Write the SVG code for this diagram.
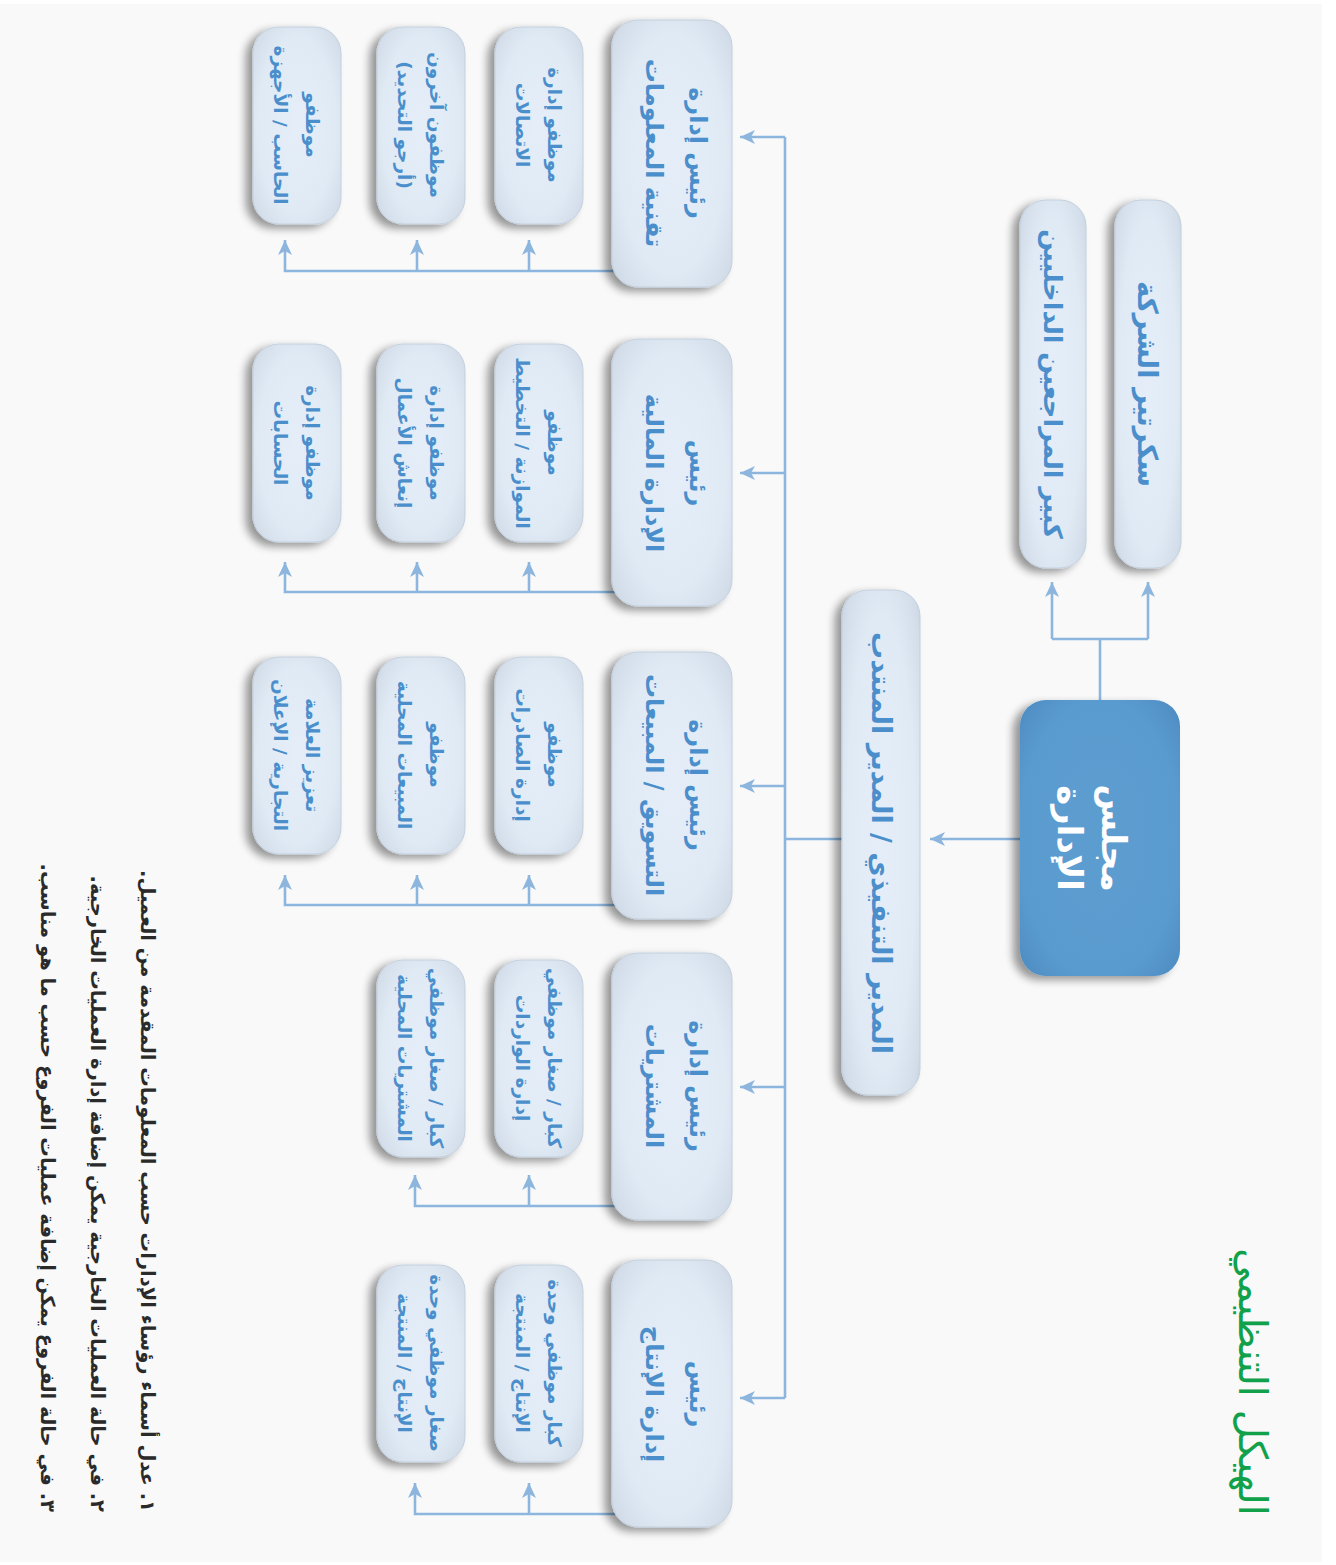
<svg xmlns="http://www.w3.org/2000/svg" width="1336" height="1565" viewBox="0 0 1336 1565">
<defs>
<style>
.bx{fill:url(#gL);stroke:#c3d0dd;stroke-width:1;filter:url(#sh)}
.bd{fill:url(#gB);filter:url(#sh)}
.c{fill:none;stroke:#8db6de;stroke-width:2.6}
.a{marker-end:url(#ar)}
text{font-family:"DejaVu Sans",sans-serif;dominant-baseline:central;text-anchor:middle;direction:rtl}
.h{font-size:24px;font-weight:bold;fill:#4a8fcb}
.s{font-size:18.5px;font-weight:bold;fill:#4a8fcb}
.b{font-size:34px;font-weight:bold;fill:#ffffff}
.m{font-size:27px;font-weight:bold;fill:#4a8fcb}
.t{font-size:40px;fill:#12a14b}
.n{font-size:19.5px;font-weight:bold;fill:#2a2a2a;text-anchor:start}
</style>
<radialGradient id="gL" cx="0.5" cy="0.5" r="0.72">
<stop offset="0" stop-color="#e5eef8"/>
<stop offset="0.62" stop-color="#e0eaf5"/>
<stop offset="0.88" stop-color="#d2dde9"/>
<stop offset="1" stop-color="#c0cddb"/>
</radialGradient>
<radialGradient id="gB" cx="0.5" cy="0.5" r="0.72">
<stop offset="0" stop-color="#5c9dd0"/>
<stop offset="0.7" stop-color="#5a9bcf"/>
<stop offset="1" stop-color="#4b89bf"/>
</radialGradient>
<filter id="sh" x="-30%" y="-30%" width="160%" height="160%">
<feGaussianBlur in="SourceAlpha" stdDeviation="4"/>
<feOffset dx="-7" dy="4"/>
<feComponentTransfer><feFuncA type="linear" slope="0.4"/></feComponentTransfer>
<feMerge><feMergeNode/><feMergeNode in="SourceGraphic"/></feMerge>
</filter>
<marker id="ar" markerUnits="userSpaceOnUse" markerWidth="16" markerHeight="16" refX="15" refY="7" orient="auto" viewBox="0 0 16 14">
<path d="M0,0 L15,7 L0,14 L4,7 Z" fill="#8db6de"/>
</marker>
</defs>
<rect x="0" y="0" width="1336" height="1565" fill="#ffffff"/>
<rect x="0" y="4" width="1322" height="1558" fill="#f9f9f9"/>

<g id="connectors">
<path class="c" d="M1100,700 V639"/>
<path class="c" d="M1052,639 H1148"/>
<path class="c a" d="M1052,639 V582"/>
<path class="c a" d="M1148,639 V582"/>
<path class="c a" d="M1020,839 H930"/>
<path class="c" d="M842,839 H785"/>
<path class="c" d="M785,137 V1398"/>
<path class="c a" d="M785,137 H740"/>
<path class="c a" d="M785,473 H740"/>
<path class="c a" d="M785,786 H740"/>
<path class="c a" d="M785,1087 H740"/>
<path class="c a" d="M785,1398 H740"/>

<path class="c a" d="M620,271 H285 V240"/>
<path class="c a" d="M529,271 V240"/>
<path class="c a" d="M417,271 V240"/>

<path class="c a" d="M620,592 H285 V562"/>
<path class="c a" d="M529,592 V562"/>
<path class="c a" d="M417,592 V562"/>

<path class="c a" d="M620,905 H285 V875"/>
<path class="c a" d="M529,905 V875"/>
<path class="c a" d="M417,905 V875"/>

<path class="c a" d="M620,1206 H415 V1175"/>
<path class="c a" d="M529,1206 V1175"/>

<path class="c a" d="M620,1514 H415 V1483"/>
<path class="c a" d="M529,1514 V1483"/>
</g>

<g id="title">
<text class="t" transform="translate(1253,1382) rotate(90)">الهيكل التنظيمي</text>
</g>

<g id="board">
<rect class="bd" x="1020" y="700" width="160" height="276" rx="26"/>
<text class="b" transform="translate(1092,838) rotate(90)"><tspan x="0" y="-22">مجلس</tspan><tspan x="0" y="22">الإدارة</tspan></text>
</g>

<g id="secretary">
<rect class="bx" x="1115" y="200" width="66" height="368" rx="26"/>
<text class="m" style="font-size:27.5px" transform="translate(1148,384) rotate(90)">سكرتير الشركة</text>
</g>

<g id="auditor">
<rect class="bx" x="1020" y="200" width="66" height="368" rx="26"/>
<text class="m" style="font-size:25.5px" transform="translate(1053,384) rotate(90)">كبير المراجعين الداخليين</text>
</g>

<g id="ceo">
<rect class="bx" x="842" y="590" width="78" height="505" rx="26"/>
<text class="m" transform="translate(881,843) rotate(90)">المدير التنفيذي / المدير المنتدب</text>
</g>

<g id="head-it">
<rect class="bx" x="612" y="20" width="120" height="267" rx="26"/>
<text class="h" transform="translate(676,153) rotate(90)"><tspan x="0" y="-22">رئيس إدارة</tspan><tspan x="0" y="22">تقنية المعلومات</tspan></text>
</g>
<g id="it-1">
<rect class="bx" x="495" y="27" width="88" height="197" rx="26"/>
<text class="s" transform="translate(539,125) rotate(90)"><tspan x="0" y="-16">موظفو إدارة</tspan><tspan x="0" y="16">الاتصالات</tspan></text>
</g>
<g id="it-2">
<rect class="bx" x="377" y="27" width="88" height="197" rx="26"/>
<text class="s" transform="translate(421,125) rotate(90)"><tspan x="0" y="-16">موظفون آخرون</tspan><tspan x="0" y="16">(أرجو التحديد)</tspan></text>
</g>
<g id="it-3">
<rect class="bx" x="253" y="27" width="88" height="197" rx="26"/>
<text class="s" transform="translate(297,125) rotate(90)"><tspan x="0" y="-16">موظفو</tspan><tspan x="0" y="16">الحاسب / الأجهزة</tspan></text>
</g>

<g id="head-finance">
<rect class="bx" x="612" y="339" width="120" height="267" rx="26"/>
<text class="h" transform="translate(676,473) rotate(90)"><tspan x="0" y="-22">رئيس</tspan><tspan x="0" y="22">الإدارة المالية</tspan></text>
</g>
<g id="fin-1">
<rect class="bx" x="495" y="344" width="88" height="198" rx="26"/>
<text class="s" transform="translate(539,443) rotate(90)"><tspan x="0" y="-16">موظفو</tspan><tspan x="0" y="16">الموازنة / التخطيط</tspan></text>
</g>
<g id="fin-2">
<rect class="bx" x="377" y="344" width="88" height="198" rx="26"/>
<text class="s" transform="translate(421,443) rotate(90)"><tspan x="0" y="-16">موظفو إدارة</tspan><tspan x="0" y="16">إنعاش الأعمال</tspan></text>
</g>
<g id="fin-3">
<rect class="bx" x="253" y="344" width="88" height="198" rx="26"/>
<text class="s" transform="translate(297,443) rotate(90)"><tspan x="0" y="-16">موظفو إدارة</tspan><tspan x="0" y="16">الحسابات</tspan></text>
</g>

<g id="head-marketing">
<rect class="bx" x="612" y="652" width="120" height="267" rx="26"/>
<text class="h" transform="translate(676,785) rotate(90)"><tspan x="0" y="-22">رئيس إدارة</tspan><tspan x="0" y="22">التسويق / المبيعات</tspan></text>
</g>
<g id="mkt-1">
<rect class="bx" x="495" y="657" width="88" height="197" rx="26"/>
<text class="s" transform="translate(539,755) rotate(90)"><tspan x="0" y="-16">موظفو</tspan><tspan x="0" y="16">إدارة الصادرات</tspan></text>
</g>
<g id="mkt-2">
<rect class="bx" x="377" y="657" width="88" height="197" rx="26"/>
<text class="s" transform="translate(421,755) rotate(90)"><tspan x="0" y="-16">موظفو</tspan><tspan x="0" y="16">المبيعات المحلية</tspan></text>
</g>
<g id="mkt-3">
<rect class="bx" x="253" y="657" width="88" height="197" rx="26"/>
<text class="s" transform="translate(297,755) rotate(90)"><tspan x="0" y="-16">تعزيز العلامة</tspan><tspan x="0" y="16">التجارية / الإعلان</tspan></text>
</g>

<g id="head-purchasing">
<rect class="bx" x="612" y="953" width="120" height="267" rx="26"/>
<text class="h" transform="translate(676,1086) rotate(90)"><tspan x="0" y="-22">رئيس إدارة</tspan><tspan x="0" y="22">المشتريات</tspan></text>
</g>
<g id="pur-1">
<rect class="bx" x="495" y="960" width="88" height="197" rx="26"/>
<text class="s" transform="translate(539,1058) rotate(90)"><tspan x="0" y="-16">كبار / صغار موظفي</tspan><tspan x="0" y="16">إدارة الواردات</tspan></text>
</g>
<g id="pur-2">
<rect class="bx" x="377" y="960" width="88" height="197" rx="26"/>
<text class="s" transform="translate(421,1058) rotate(90)"><tspan x="0" y="-16">كبار / صغار موظفي</tspan><tspan x="0" y="16">المشتريات المحلية</tspan></text>
</g>

<g id="head-production">
<rect class="bx" x="612" y="1260" width="120" height="267" rx="26"/>
<text class="h" transform="translate(676,1394) rotate(90)"><tspan x="0" y="-22">رئيس</tspan><tspan x="0" y="22">إدارة الإنتاج</tspan></text>
</g>
<g id="prod-1">
<rect class="bx" x="495" y="1265" width="88" height="197" rx="26"/>
<text class="s" transform="translate(539,1363) rotate(90)"><tspan x="0" y="-16">كبار موظفي وحدة</tspan><tspan x="0" y="16">الإنتاج / المنتجة</tspan></text>
</g>
<g id="prod-2">
<rect class="bx" x="377" y="1265" width="88" height="197" rx="26"/>
<text class="s" transform="translate(421,1363) rotate(90)"><tspan x="0" y="-16">صغار موظفي وحدة</tspan><tspan x="0" y="16">الإنتاج / المنتجة</tspan></text>
</g>

<g id="notes">
<text class="n" transform="translate(147,1512) rotate(90)">١. عدل أسماء رؤساء الإدارات حسب المعلومات المقدمة من العميل.</text>
<text class="n" transform="translate(97,1512) rotate(90)">٢. في حالة العمليات الخارجية يمكن إضافة إدارة العمليات الخارجية.</text>
<text class="n" transform="translate(47,1512) rotate(90)">٣. في حالة الفروع يمكن إضافة عمليات الفروع حسب ما هو مناسب.</text>
</g>
</svg>
